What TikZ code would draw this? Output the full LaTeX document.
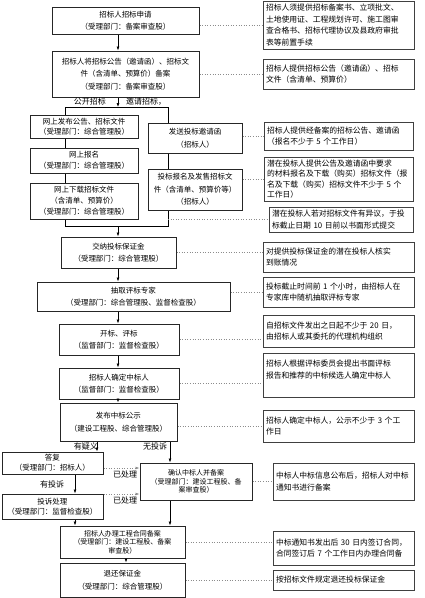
\documentclass[tikz,border=0pt]{standalone}
\usepackage{fontspec}
\setmainfont{Noto Sans CJK SC}
\usetikzlibrary{arrows.meta}

\begin{document}
\begin{tikzpicture}[x=1pt,y=1pt,yscale=-1,
  flow/.style={draw=black!85, line width=1pt, align=center, inner sep=1.5pt, font=\fontsize{7.5}{12.5}\selectfont},
  note/.style={draw=black!75, line width=1pt, align=left, inner xsep=3pt, inner ysep=2pt, font=\fontsize{7.8}{11.5}\selectfont},
  link/.style={draw=black!45, dotted, line width=0.6pt},
  arr/.style={-{Latex[length=4pt,width=3pt]}, line width=0.6pt},
  lbl/.style={font=\fontsize{8}{9}\selectfont, inner sep=0.5pt}]
\useasboundingbox (0,0) rectangle (425,598);

%Shape: Rectangle -- left column
\node[flow, minimum width=147pt, minimum height=27pt] (apply) at (125.5,20.5) {招标人招标申请\\（受理部门：备案审查股）};
\node[flow, minimum width=147pt, minimum height=46pt] (record) at (125.5,74) {招标人将招标公告（邀请函）、招标文\\件（含清单、预算价）备案\\（受理部门：备案审查股）};
\node[flow, minimum width=108pt, minimum height=23pt, font=\fontsize{7.5}{10.5}\selectfont] (publish) at (84,126.5) {网上发布公告、招标文件\\（受理部门：综合管理股）};
\node[flow, minimum width=108pt, minimum height=25pt, font=\fontsize{7.5}{11}\selectfont] (signup) at (84,160.5) {网上报名\\（受理部门：综合管理股）};
\node[flow, minimum width=108pt, minimum height=36pt, font=\fontsize{7.5}{11}\selectfont] (download) at (84,201) {网上下载招标文件\\（含清单、预算价）\\（受理部门：综合管理股）};
\node[flow, minimum width=94pt, minimum height=30pt] (invite) at (195,138) {发送投标邀请函\\（招标人）};
\node[flow, minimum width=94pt, minimum height=41pt] (sell) at (195,189.5) {投标报名及发售招标文\\件（含清单、预算价等）\\（招标人）};
\node[flow, minimum width=115pt, minimum height=31pt] (deposit) at (118.5,252.5) {交纳投标保证金\\（受理部门：综合管理股）};
\node[flow, minimum width=193pt, minimum height=29pt] (expert) at (133.5,296.5) {抽取评标专家\\（受理部门：综合管理股、监督检查股）};
\node[flow, minimum width=120pt, minimum height=31pt] (opening) at (119,339.5) {开标、评标\\（监督部门：监督检查股）};
\node[flow, minimum width=120pt, minimum height=31pt] (decide) at (119,383.5) {招标人确定中标人\\（监督部门：监督检查股）};
\node[flow, minimum width=117pt, minimum height=38pt] (notice) at (118.5,422) {发布中标公示\\（建设工程股、综合管理股）};
\node[flow, minimum width=101pt, minimum height=22pt, font=\fontsize{7.5}{10}\selectfont] (reply) at (52.5,463) {答复\\（受理部门：招标人）};
\node[flow, minimum width=101pt, minimum height=25pt, font=\fontsize{7.5}{9.5}\selectfont] (complain) at (52.5,506.5) {投诉处理\\（受理部门：监督检查股）};
\node[flow, minimum width=112pt, minimum height=37pt, font=\fontsize{7}{8.6}\selectfont] (confirm) at (196,481.5) {确认中标人并备案\\（受理部门：建设工程股、备\\案审查股）};
\node[flow, minimum width=125pt, minimum height=32pt, font=\fontsize{7}{8.6}\selectfont] (contract) at (122.5,542) {招标人办理工程合同备案\\（受理部门：建设工程股、备案\\审查股）};
\node[flow, minimum width=125pt, minimum height=34pt] (refund) at (122.5,580) {退还保证金\\（受理部门：综合管理股）};

%Shape: Rectangle -- right column
\node[note, text width=145pt, minimum height=48pt] (rApply) at (338.5,25) {招标人须提供招标备案书、立项批文、\\土地使用证、工程规划许可、施工图审\\查合格书、招标代理协议及县政府审批\\表等前置手续};
\node[note, text width=145pt, minimum height=30pt] (rRecord) at (338.5,74) {招标人提供招标公告（邀请函）、招标\\文件（含清单、预算价）};
\node[note, text width=143pt, minimum height=28pt] (rInvite) at (338.5,136) {招标人提供经备案的招标公告、邀请函\\（报名不少于 5 个工作日）};
\node[note, text width=143pt, minimum height=44pt, font=\fontsize{7.8}{10.5}\selectfont] (rSell) at (338.5,179) {潜在投标人提供公告及邀请函中要求\\的材料报名及下载（购买）招标文件（报\\名及下载（购买）招标文件不少于 5 个\\工作日）};
\node[note, text width=138pt, minimum height=25pt] (rObject) at (341,219.5) {潜在投标人若对招标文件有异议，于投\\标截止日期 10 日前以书面形式提交};
\node[note, text width=145pt, minimum height=30pt] (rDeposit) at (338.5,257) {对提供投标保证金的潜在投标人核实\\到账情况};
\node[note, text width=145pt, minimum height=30pt] (rExpert) at (338.5,292) {投标截止时间前 1 个小时，由招标人在\\专家库中随机抽取评标专家};
\node[note, text width=145pt, minimum height=32pt] (rOpening) at (338.5,331) {自招标文件发出之日起不少于 20 日，\\由招标人或其委托的代理机构组织};
\node[note, text width=145pt, minimum height=44pt] (rDecide) at (338.5,375) {招标人根据评标委员会提出书面评标\\报告和推荐的中标候选人确定中标人\\\mbox{}};
\node[note, text width=145pt, minimum height=32pt] (rNotice) at (338.5,426) {招标人确定中标人，公示不少于 3 个工\\作日};
\node[note, text width=135pt, minimum height=37pt] (rConfirm) at (343.5,481.5) {中标人中标信息公布后，招标人对中标\\通知书进行备案};
\node[note, text width=135pt, minimum height=34pt] (rContract) at (343.5,548) {中标通知书发出后 30 日内签订合同，\\合同签订后 7 个工作日内办理合同备};
\node[note, text width=135pt, minimum height=20pt] (rRefund) at (343.5,580) {按招标文件规定退还投标保证金};

%Coordinates for the connectors
\coordinate (spine) at (118,0);
\coordinate (fork) at (118,107);
\coordinate (pubL) at (65,107);
\coordinate (invR) at (168,107);
\coordinate (joinL) at (65,226);
\coordinate (joinR) at (168,226);
\coordinate (ask) at (97,0);
\coordinate (pass) at (170,0);
\coordinate (appeal) at (75,0);
\coordinate (tail) at (126,0);
\coordinate (done1) at (0,468);
\coordinate (done2) at (0,494);

%Straight Lines -- main flow
\draw[arr] (apply.south -| spine) -- (record.north -| spine);
\draw[arr] (record.south -| spine) -- (fork);
\draw[line width=0.6pt] (publish.north -| pubL) -- (pubL) -- (invR) -- (invite.north -| invR);
\draw[line width=0.6pt] (publish.south -| pubL) -- (signup.north -| pubL);
\draw[line width=0.6pt] (signup.south -| pubL) -- (download.north -| pubL);
\draw[line width=0.6pt] (invite.south -| invR) -- (sell.north -| invR);
\draw[line width=0.6pt] (download.south -| joinL) -- (joinL) -- (joinR) -- (sell.south -| joinR);
\draw[arr] (joinL -| spine) -- (deposit.north -| spine);
\draw[arr] (deposit.south -| spine) -- (expert.north -| spine);
\draw[arr] (expert.south -| spine) -- (opening.north -| spine);
\draw[arr] (opening.south -| spine) -- (decide.north -| spine);
\draw[arr] (decide.south -| spine) -- (notice.north -| spine);
\draw[arr] (notice.south -| ask) -- (reply.north -| ask);
\draw[arr] (notice.south -| pass) -- (confirm.north -| pass);
\draw[arr] (reply.south -| appeal) -- (complain.north -| appeal);
\draw[arr] (complain.south -| appeal) -- (contract.north -| appeal);
\draw[arr] (confirm.south -| pass) -- (contract.north -| pass);
\draw[arr] (contract.south -| tail) -- (refund.north -| tail);
\draw[arr, link] (reply.east |- done1) -- (confirm.west |- done1);
\draw[arr, link] (complain.east |- done2) -- (confirm.west |- done2);

%Straight Lines -- dotted links to the notes
\draw[link] (apply.east |- rApply.west) -- (rApply.west);
\draw[link] (record.east) -- (rRecord.west);
\draw[link] (invite.east |- rInvite.west) -- (rInvite.west);
\draw[link] (sell.east |- rSell.west) -- (rSell.west);
\draw[link] (joinR |- rObject.west) -- (rObject.west);
\draw[link] (deposit.east) -- (deposit.east -| rDeposit.west);
\draw[link] (expert.east |- rExpert.west) -- (rExpert.west);
\draw[link] (opening.east) -- (opening.east -| rOpening.west);
\draw[link] (decide.east) -- (decide.east -| rDecide.west);
\draw[link] (notice.east |- rNotice.west) -- (rNotice.west);
\draw[link] (confirm.east) -- (rConfirm.west);
\draw[link] (contract.east) -- (contract.east -| rContract.west);
\draw[link] (refund.east) -- (rRefund.west);

% Text Node
\node[lbl, anchor=south] (lPublic) at (90,106) {公开招标};
\node[lbl, anchor=south] (lInvite) at (146,106) {邀请招标，};
\node[lbl] (lDoubt) at (86,446) {有疑义};
\node[lbl] (lNone) at (155,446) {无投诉};
\node[lbl] (lAppeal) at (52,484) {有投诉};
\node[lbl] (lDone1) at (125,474) {已处理};
\node[lbl] (lDone2) at (125,500) {已处理};

\end{tikzpicture}
\end{document}
